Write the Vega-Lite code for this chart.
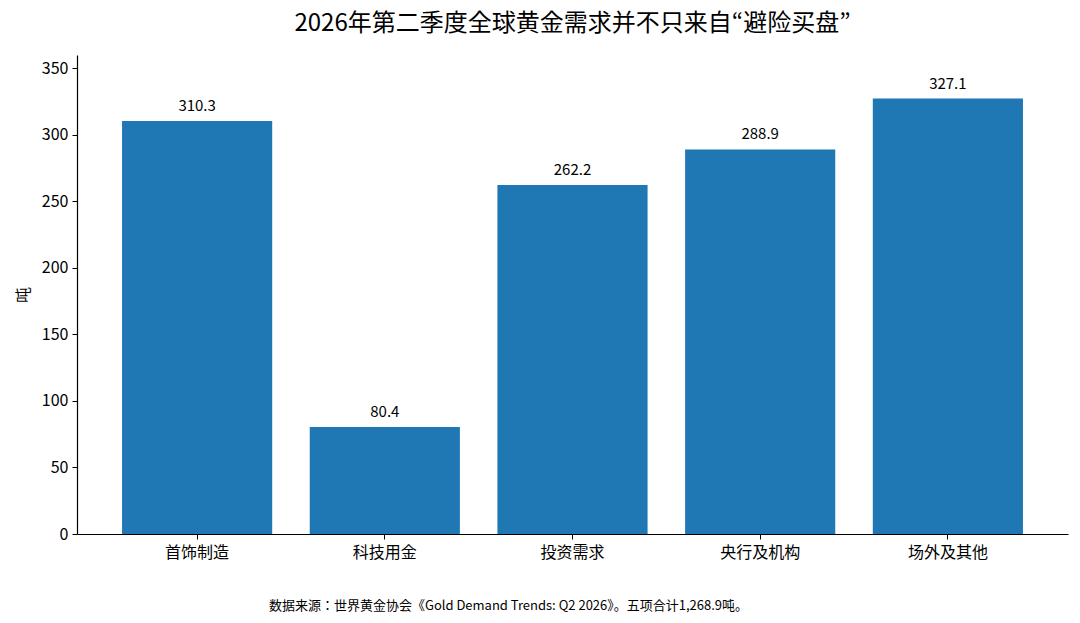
{
  "$schema": "https://vega.github.io/schema/vega-lite/v6.json",
  "autosize": {"type": "none"},
  "width": 991,
  "height": 479,
  "padding": {"left": 77, "top": 55, "right": 12, "bottom": 89},
  "background": "white",
  "config": {
    "font": "Noto Sans CJK JP",
    "view": {"stroke": null},
    "axis": {"domainColor": "#000000", "tickColor": "#000000", "labelColor": "#000000", "titleColor": "#000000", "grid": false}
  },
  "title": {
    "text": "2026年第二季度全球黄金需求并不只来自“避险买盘”",
    "fontSize": 24,
    "fontWeight": "normal",
    "color": "#000000",
    "anchor": "middle",
    "offset": 19
  },
  "data": {
    "values": [
      {"category": "首饰制造", "value": 310.3},
      {"category": "科技用金", "value": 80.4},
      {"category": "投资需求", "value": 262.2},
      {"category": "央行及机构", "value": 288.9},
      {"category": "场外及其他", "value": 327.1}
    ]
  },
  "encoding": {
    "x": {
      "field": "category",
      "type": "nominal",
      "sort": null,
      "scale": {"paddingInner": 0.2, "paddingOuter": 0.24},
      "axis": {
        "title": "数据来源：世界黄金协会《Gold Demand Trends: Q2 2026》。五项合计1,268.9吨。",
        "titleFontSize": 13,
        "titleFontWeight": "normal",
        "titlePadding": 39,
        "titleX": 431,
        "titleAnchor": "middle",
        "labelAngle": 0,
        "labelFontSize": 16,
        "labelPadding": 5,
        "tickSize": 5,
        "domainWidth": 1.2
      }
    },
    "y": {
      "field": "value",
      "type": "quantitative",
      "scale": {"domain": [0, 359.8], "nice": false},
      "axis": {
        "title": "吨",
        "titleFontSize": 16,
        "titleFontWeight": "normal",
        "titlePadding": 10,
        "values": [0, 50, 100, 150, 200, 250, 300, 350],
        "labelFontSize": 16,
        "labelPadding": 4,
        "tickSize": 5,
        "domainWidth": 1.2
      }
    }
  },
  "layer": [
    {"mark": {"type": "bar", "color": "#1f77b4"}},
    {
      "mark": {"type": "text", "baseline": "bottom", "dy": -7, "fontSize": 15, "color": "#000000"},
      "encoding": {"text": {"field": "value", "type": "quantitative", "format": ".1f"}}
    }
  ]
}
